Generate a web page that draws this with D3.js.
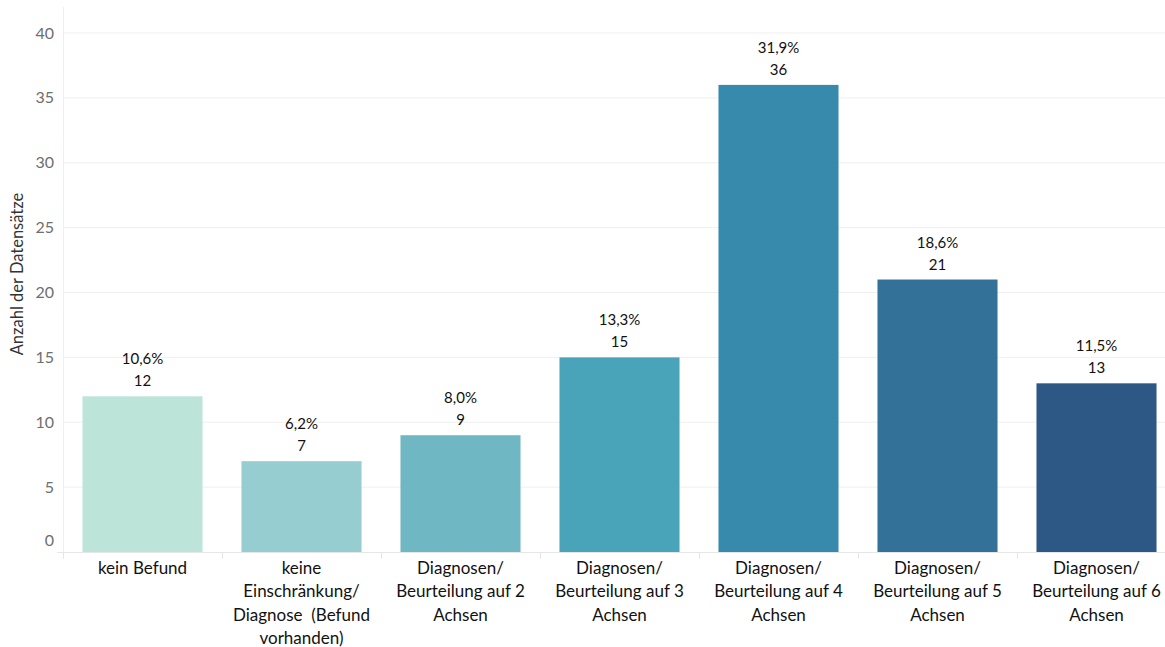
<!DOCTYPE html>
<html>
<head>
<meta charset="utf-8">
<script src="https://cdn.jsdelivr.net/npm/d3@7"></script>
<style>
  html, body { margin: 0; padding: 0; background: #fff; }
  svg { display: block; }
  text { font-family: Lato, "Noto Sans", sans-serif; white-space: pre; }
</style>
</head>
<body>
<svg id="chart" width="1165" height="647"></svg>
<script>
// Anzahl der Datensätze je Befundkategorie
const categories = [
  ["kein Befund"],
  ["keine", "Einschränkung/", "Diagnose  (Befund", "vorhanden)"],
  ["Diagnosen/", "Beurteilung auf 2", "Achsen"],
  ["Diagnosen/", "Beurteilung auf 3", "Achsen"],
  ["Diagnosen/", "Beurteilung auf 4", "Achsen"],
  ["Diagnosen/", "Beurteilung auf 5", "Achsen"],
  ["Diagnosen/", "Beurteilung auf 6", "Achsen"]
];
const counts = [12, 7, 9, 15, 36, 21, 13];
const percentLabels = ["10,6%", "6,2%", "8,0%", "13,3%", "31,9%", "18,6%", "11,5%"];
const barColors = ["#bce4d9", "#95cdd0", "#6fb7c3", "#49a4b9", "#378aab", "#337198", "#2d5885"];
const yTicks = [0, 5, 10, 15, 20, 25, 30, 35, 40];
const yTitle = "Anzahl der Datensätze";

const svg = d3.select("#chart");

const x = d3.scaleBand()
  .domain(d3.range(counts.length))
  .range([63, 1176])
  .paddingInner(0.245)
  .paddingOuter(0.1225);

const y = d3.scaleLinear()
  .domain([0, 40])
  .range([552, 33]);

// gridlines
svg.append("g")
  .selectAll("line")
  .data(yTicks.filter(d => d > 0))
  .join("line")
  .attr("x1", 63).attr("x2", 1165)
  .attr("y1", d => y(d)).attr("y2", d => y(d))
  .attr("stroke", "#efefef").attr("stroke-width", 1);

// left axis line
svg.append("line")
  .attr("x1", 63.5).attr("x2", 63.5)
  .attr("y1", 7).attr("y2", 552)
  .attr("stroke", "#efefef");

// y tick labels
svg.append("g")
  .selectAll("text")
  .data(yTicks)
  .join("text")
  .attr("x", 54)
  .attr("y", d => d === 0 ? y(d) - 12 : y(d))
  .attr("dy", "0.35em")
  .attr("text-anchor", "end")
  .attr("fill", "#6e6e6e")
  .attr("font-size", 16)
  .text(d => d);

// y title
svg.append("text")
  .attr("transform", "translate(23,274) rotate(-90)")
  .attr("text-anchor", "middle")
  .attr("fill", "#333")
  .attr("font-size", 16.5)
  .text(yTitle);

// bars
svg.append("g")
  .selectAll("rect")
  .data(counts)
  .join("rect")
  .attr("x", (d, i) => x(i))
  .attr("width", x.bandwidth())
  .attr("y", d => y(d))
  .attr("height", d => y(0) - y(d))
  .attr("fill", (d, i) => barColors[i]);

// baseline and category separators
svg.append("line")
  .attr("x1", 57).attr("x2", 1165)
  .attr("y1", 552.5).attr("y2", 552.5)
  .attr("stroke", "#e6e6e6");
svg.append("g")
  .selectAll("line")
  .data(d3.range(counts.length))
  .join("line")
  .attr("x1", i => Math.round(x(i) - x.step() * x.paddingInner() / 2) + 0.5)
  .attr("x2", i => Math.round(x(i) - x.step() * x.paddingInner() / 2) + 0.5)
  .attr("y1", 552).attr("y2", 559)
  .attr("stroke", "#e6e6e6");

// value labels
const lbl = svg.append("g");
lbl.selectAll("text.count")
  .data(counts)
  .join("text")
  .attr("class", "count")
  .attr("x", (d, i) => x(i) + x.bandwidth() / 2)
  .attr("y", d => y(d) - 10)
  .attr("text-anchor", "middle")
  .attr("font-size", 15)
  .attr("fill", "#111")
  .text(d => d);
lbl.selectAll("text.pct")
  .data(counts)
  .join("text")
  .attr("class", "pct")
  .attr("x", (d, i) => x(i) + x.bandwidth() / 2)
  .attr("y", d => y(d) - 32)
  .attr("text-anchor", "middle")
  .attr("font-size", 15)
  .attr("fill", "#111")
  .text((d, i) => percentLabels[i]);

// category labels
svg.append("g")
  .selectAll("text")
  .data(categories)
  .join("text")
  .attr("x", (d, i) => x(i) + x.bandwidth() / 2)
  .attr("y", 574)
  .attr("text-anchor", "middle")
  .attr("font-size", 17)
  .attr("fill", "#111")
  .each(function(lines) {
    d3.select(this).selectAll("tspan")
      .data(lines)
      .join("tspan")
      .attr("x", d3.select(this).attr("x"))
      .attr("dy", (d, j) => j === 0 ? 0 : 23.4)
      .text(d => d);
  });
</script>
</body>
</html>
